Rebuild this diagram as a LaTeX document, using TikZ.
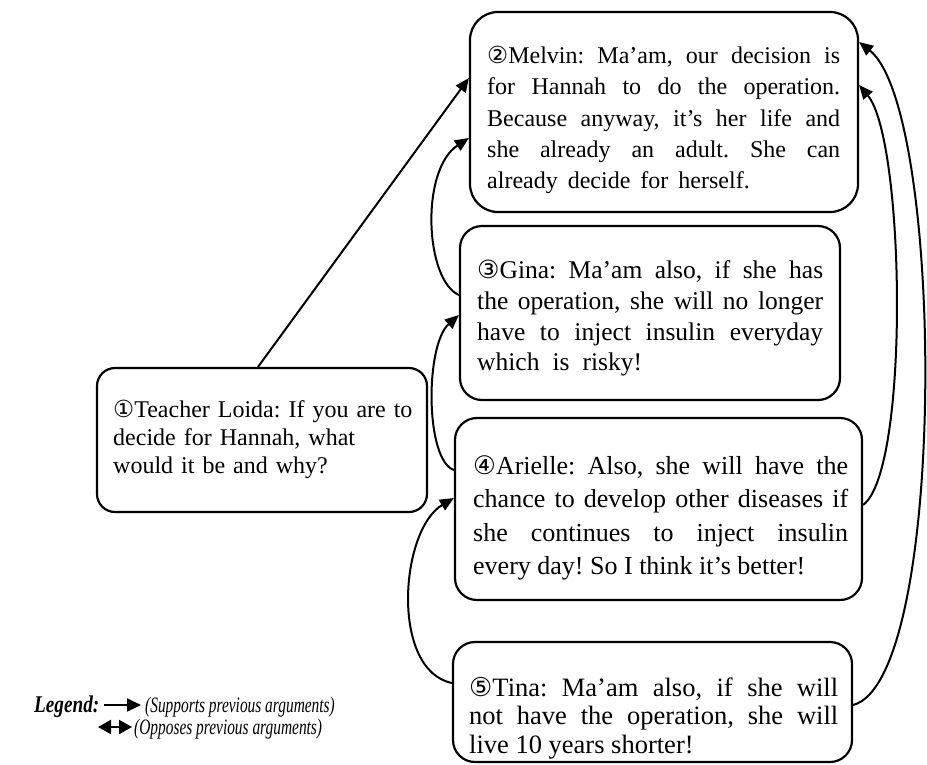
\documentclass[tikz,border=0pt]{standalone}
\usepackage{fontspec}
\setmainfont{Liberation Serif}
\newfontfamily\circfont[Scale=0.98]{DejaVu Sans}
\newfontfamily\legendfont[FakeStretch=0.8]{Liberation Serif}
\newfontfamily\notefont[FakeStretch=0.7]{Liberation Serif}
\usetikzlibrary{arrows.meta}
\newcommand\cnum[1]{{\circfont #1}}

\begin{document}
\frenchspacing
\begin{tikzpicture}[x=1pt,y=-1pt,
  card/.style={draw, line width=2.2pt, rounded corners=22pt, inner sep=0pt},
  say/.style={anchor=north west, inner sep=0pt, align=justify},
  link/.style={line width=2pt, -{Triangle[length=14pt,width=12pt]}},
  keylink/.style={line width=2.2pt, -{Triangle[length=14pt,width=13pt]}},
  twolink/.style={line width=2.2pt, {Triangle[length=13pt,width=14pt]}-{Triangle[length=13pt,width=14pt]}},
  legtext/.style={anchor=base west, inner sep=0pt, font=\notefont\itshape\fontsize{22}{22}\selectfont},
]
\useasboundingbox (0,0) rectangle (927,764);

% speech boxes
\node[card, minimum width=330pt, minimum height=144pt, rounded corners=18pt] (loida) at (262,440) {};
\node[card, minimum width=388pt, minimum height=200pt, rounded corners=28pt] (melvin) at (664,112) {};
\node[card, minimum width=380pt, minimum height=174pt] (gina) at (650,313) {};
\node[card, minimum width=407pt, minimum height=182pt] (arielle) at (658.5,509) {};
\node[card, minimum width=399pt, minimum height=120pt] (tina) at (652.5,702) {};

% what each speaker says
\node[say, align=left, text width=310pt, font=\fontsize{24}{28}\selectfont] (loidatext) at (113,400)
  {\cnum{①}Teacher Loida: If you are to\\decide for Hannah, what\\would it be and why?};
\node[say, text width=353pt, font=\fontsize{24}{31.3}\selectfont] (melvintext) at (487,46)
  {\cnum{②}Melvin: Ma’am, our decision is\linebreak
   for Hannah to do the operation.\linebreak
   Because anyway, it’s her life and\linebreak
   she already an adult. She can\linebreak
   already\hspace{10pt}decide\hspace{10pt}for\hspace{10pt}herself.};
\node[say, text width=346pt, font=\fontsize{25.5}{30.7}\selectfont] (ginatext) at (477,260)
  {\cnum{③}Gina: Ma’am also, if she has\linebreak
   the operation, she will no longer\linebreak
   have to inject insulin everyday\linebreak
   which\hspace{13pt}is\hspace{13pt}risky!};
\node[say, text width=375pt, font=\fontsize{26}{33.5}\selectfont] (arielletext) at (473,455)
  {\cnum{④}Arielle: Also, she will have the\linebreak
   chance to develop other diseases if\linebreak
   she continues to inject insulin\linebreak
   every day! So I think it’s better!};
\node[say, text width=369pt, font=\fontsize{26.5}{28.5}\selectfont] (tinatext) at (469,677)
  {\cnum{⑤}Tina: Ma’am also, if she will\linebreak
   not have the operation, she will\linebreak
   live 10 years shorter!};

% supporting links
\draw[link] ([xshift=-4pt]loida.north) -- ([yshift=34pt]melvin.west);
\draw[link] ([yshift=18pt]gina.west) .. controls (425,280) and (420,170) .. ([yshift=-26pt]melvin.west);
\draw[link] ([yshift=39pt]arielle.west) .. controls (425,460) and (425,345) .. ([yshift=-2pt]gina.west);
\draw[link] ([yshift=19pt]tina.west) .. controls (390,670) and (400,530) .. ([yshift=11pt]arielle.west);
\draw[link] ([yshift=4pt]arielle.east) .. controls (910,470) and (905,140) .. ([yshift=27pt]melvin.east);
\draw[link] ([yshift=-3pt]tina.east) .. controls (948,680) and (945,110) .. ([yshift=70pt]melvin.east);

% legend
\node[anchor=base west, inner sep=0pt, font=\legendfont\bfseries\itshape\fontsize{24}{24}\selectfont] (legend) at (34,712) {Legend:};
\coordinate (sa) at (104,705);
\coordinate (sb) at (141,705);
\draw[keylink] (sa) -- (sb);
\node[legtext] (supports) at (145,712) {(Supports previous arguments)};
\coordinate (oa) at (98,727);
\coordinate (ob) at (132,727);
\draw[twolink] (oa) -- (ob);
\node[legtext] (opposes) at (134,734) {(Opposes previous arguments)};
\end{tikzpicture}
\end{document}
